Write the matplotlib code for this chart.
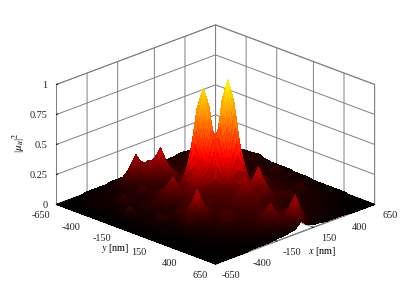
import numpy as np
import matplotlib
matplotlib.use("Agg")
import matplotlib.pyplot as plt
from matplotlib.colors import LinearSegmentedColormap
from matplotlib.transforms import ScaledTranslation

plt.rcParams['font.family'] = ['Liberation Serif', 'DejaVu Serif']
plt.rcParams['mathtext.fontset'] = 'stix'
plt.rcParams['axes.unicode_minus'] = False

x_nm = list(range(-650, 651, 50))
y_nm = list(range(-650, 651, 50))
tick_nm = [-650, -400, -150, 150, 400, 650]
z_ticks = [0, 0.25, 0.5, 0.75, 1]
z_labels = ['0', '0.25', '0.5', '0.75', '1']

# |mu_u|^2, in hundredths; rows run along y, columns along x
mu_percent = [
 [0,0,0,0,0,1,1,1,1,2,2,2,3,3,3,3,4,4,3,3,4,4,3,3,3,2,1],
 [0,0,1,1,1,2,1,2,3,3,5,4,5,5,6,4,5,5,6,5,5,4,4,4,3,3,2],
 [0,1,1,2,3,2,2,3,6,9,16,10,9,9,7,6,6,7,6,6,7,5,5,4,4,3,3],
 [0,1,2,3,2,3,3,4,7,14,28,18,13,10,9,8,7,6,8,7,5,6,5,4,5,4,3],
 [0,1,2,2,3,3,5,4,6,11,18,23,22,15,9,8,9,7,6,7,8,6,5,5,4,5,4],
 [0,1,2,3,2,4,4,6,5,8,13,20,34,20,11,9,7,8,9,6,6,7,5,6,5,5,5],
 [0,1,1,2,4,10,5,5,12,6,9,13,18,15,11,8,9,10,7,8,5,6,8,10,6,6,5],
 [0,1,2,3,3,5,4,6,6,8,7,9,10,12,9,11,8,7,9,6,8,5,6,7,5,7,6],
 [0,1,1,2,4,4,6,5,8,10,10,13,9,11,13,10,9,8,7,8,12,7,5,6,7,5,4],
 [0,1,2,10,3,5,5,7,11,15,12,11,18,16,18,12,10,9,8,6,7,5,6,5,6,4,3],
 [0,1,2,2,4,4,11,7,15,25,15,18,42,75,42,18,11,8,7,8,6,7,5,6,4,5,3],
 [0,1,1,3,3,5,5,11,11,15,13,20,75,93,75,22,20,9,9,7,8,6,11,5,5,4,3],
 [0,1,2,2,4,4,6,6,8,10,22,35,42,75,32,80,45,20,8,8,6,7,5,6,9,4,3],
 [0,1,1,3,9,5,6,7,13,12,11,18,20,22,80,100,80,17,9,8,7,6,6,5,5,4,2],
 [0,1,2,2,4,4,11,8,10,10,12,11,14,20,45,80,45,20,10,7,13,6,5,6,4,3,2],
 [0,1,1,3,3,5,7,16,12,9,13,12,12,14,20,17,20,13,13,9,6,7,5,4,5,3,2],
 [0,1,2,2,4,7,16,30,16,11,9,10,12,12,17,14,20,14,10,8,8,6,6,5,4,3,1],
 [0,1,1,2,3,9,7,16,10,8,10,11,13,17,28,17,33,20,9,8,7,6,5,4,4,2,1],
 [0,1,1,2,3,4,5,7,8,10,9,11,13,12,17,14,20,12,8,9,6,5,10,4,3,2,1],
 [0,0,1,2,2,3,5,6,7,14,10,9,11,13,10,12,10,8,9,11,6,6,4,4,3,2,1],
 [0,0,1,1,2,3,4,5,11,7,8,10,9,12,10,9,9,7,6,7,5,5,4,3,3,2,1],
 [0,0,1,1,2,3,3,4,5,6,8,8,11,10,9,9,7,6,5,6,4,4,3,3,2,1,1],
 [0,0,0,1,1,2,3,3,4,5,7,9,13,10,10,8,6,5,5,4,4,3,3,2,2,1,0],
 [0,0,0,1,1,2,2,3,4,5,7,12,22,12,10,13,7,6,4,4,3,3,2,2,1,1,0],
 [0,0,0,0,1,1,2,2,3,4,5,7,12,10,16,12,7,4,4,3,3,2,2,1,1,0,0],
 [0,0,0,0,1,1,1,2,2,3,3,5,7,12,29,14,6,3,3,2,2,2,1,1,0,0,0],
 [0,0,0,0,0,0,1,1,1,1,2,2,3,4,9,4,2,2,1,1,1,1,0,0,0,0,0],
]


def shaded_mesh(a, n=5):
    """Split each facet for colour shading only (what MATLAB's 'shading interp'
    does); the vertices that carry the read values stay where they are."""
    a = np.asarray(a, float)
    t = np.linspace(0, 1, n, endpoint=False)
    ri = np.r_[np.repeat(np.arange(a.shape[0] - 1), n), a.shape[0] - 2]
    ci = np.r_[np.repeat(np.arange(a.shape[1] - 1), n), a.shape[1] - 2]
    rt = np.r_[np.tile(t, a.shape[0] - 1), 1.0][:, None]
    ct = np.r_[np.tile(t, a.shape[1] - 1), 1.0][None, :]
    r0, c0 = np.ix_(ri, ci)
    return (a[r0, c0] * (1 - rt) * (1 - ct) + a[r0 + 1, c0] * rt * (1 - ct)
            + a[r0, c0 + 1] * (1 - rt) * ct + a[r0 + 1, c0 + 1] * rt * ct)


cmap = LinearSegmentedColormap.from_list(
    'hot_to_yellow', [(0, '#000000'), (0.42, '#ff0000'), (1, '#ffff00')])

X, Y = np.meshgrid(x_nm, y_nm)
Z = np.array(mu_percent) / 100.0

fig = plt.figure(figsize=(4.15, 2.99), dpi=100)
ax = fig.add_axes([4 / 415, 1 / 299, 1, 1], projection='3d', proj_type='ortho')
ax.set_box_aspect((226, 226, 130), zoom=1.115)
ax.view_init(elev=22, azim=-135)
ax.set_xlim(-650, 650)
ax.set_ylim(650, -650)
ax.set_zlim(0, 1)

surf = ax.plot_surface(shaded_mesh(X), shaded_mesh(Y), shaded_mesh(Z), cmap=cmap, vmin=0, vmax=1,
                       rstride=1, cstride=1, linewidth=0, antialiased=False, shade=False)
surf.set_clip_on(False)

grey = '#808080'
ax.set_xticks(tick_nm)
ax.set_yticks(tick_nm)
ax.set_xticklabels([str(v) for v in tick_nm])
ax.set_yticklabels([str(v) for v in tick_nm])
ax.set_zticks(z_ticks)
ax.set_zticklabels(z_labels, ha='right')
for axis in (ax.xaxis, ax.yaxis, ax.zaxis):
    axis.set_pane_color((1, 1, 1, 1))
    axis.pane.set_edgecolor(grey)
    axis.pane.set_linewidth(0.7)
    axis.line.set_color(grey)
    axis.line.set_linewidth(0.7)
    axis._axinfo['grid'].update(color=grey, linewidth=0.7)
    axis._axinfo['tick'].update(inward_factor=0, outward_factor=0.1)
    axis.set_rotate_label(False)
ax.tick_params(labelsize=7.4, colors='#222222', length=2)
ax.xaxis.set_tick_params(pad=3)
ax.yaxis.set_tick_params(pad=3)
ax.zaxis.set_tick_params(pad=-3)
ax.set_xlabel('$\\mathit{x}$ [nm]', fontsize=7.4, labelpad=-9, rotation=0, ha='left', va='bottom')
ax.set_ylabel('$\\mathit{y}$ [nm]', fontsize=7.4, labelpad=-13, rotation=0, ha='right', va='bottom')
ax.set_zlabel('|$\\mathit{\\mu}_u$|$^2$', fontsize=8, labelpad=-9, rotation=90)


def nudge(text, dx, dy):
    # mplot3d resets text transforms while drawing, so the offset is attached to the getter
    shifted = ax.transData + ScaledTranslation(dx / 100, dy / 100, fig.dpi_scale_trans)
    text.get_transform = lambda: shifted


for axis, (dx, dy) in ((ax.xaxis, (0, 11)), (ax.yaxis, (0, 11)), (ax.zaxis, (5, 3))):
    for tick in axis.get_major_ticks():
        nudge(tick.label1, dx, dy)
nudge(ax.xaxis.label, 10, 2)
nudge(ax.yaxis.label, -9, -1)
nudge(ax.zaxis.label, -3, 2)

fig.savefig('out.png', dpi=100)
